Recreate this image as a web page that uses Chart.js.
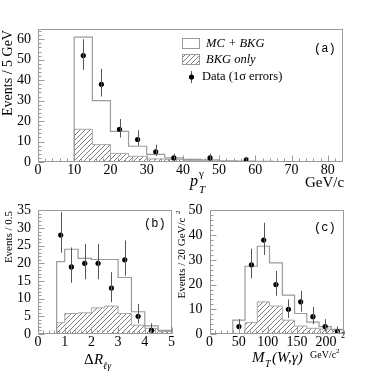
<!DOCTYPE html>
<html>
<head>
<meta charset="utf-8">
<script src="https://cdn.jsdelivr.net/npm/chart.js@4.4.1/dist/chart.umd.min.js"></script>
<style>
  html, body { margin: 0; padding: 0; background: #fff; }
  #wrap { position: relative; width: 381px; height: 382px; overflow: hidden; }
  canvas { position: absolute; }
</style>
</head>
<body>
<div id="wrap">
  <canvas id="chartA" style="left:0;top:0;width:381px;height:200px"></canvas>
  <canvas id="chartB" style="left:0;top:195px;width:200px;height:187px"></canvas>
  <canvas id="chartC" style="left:170px;top:195px;width:211px;height:187px"></canvas>
</div>
<script>
//------------------------------------
// Data : (a) photon pT
//------------------------------------

const ptEdges = [10, 15, 20, 25, 30, 35, 40, 45, 50, 55, 60, 65, 70, 75, 80, 85];
const ptMcBkg = [61, 30, 15, 7.7, 3.7, 2, 1.3, 1, 0.6, 0.4, 0.3, 0.2, 0.15, 0.1, 0.1];
const ptBkg = [16, 8.5, 4.2, 2.8, 1.5, 1.2, 0.8, 0.5, 0.3, 0.2, 0.15, 0.1, 0.1, 0.05, 0.05];
const ptDataX = [12.5, 17.5, 22.5, 27.5, 32.5, 37.5, 47.5, 57.5];
const ptDataY = [52, 38, 16, 11, 5, 2, 2, 1];
const ptDataLo = [45, 32, 12, 8, 3, 1, 1, 0];
const ptDataHi = [60, 45.5, 21, 15.5, 8.5, 4, 4, 2.5];

//------------------------------------
// Data : (b) delta R
//------------------------------------

const drEdges = [0.7, 1.0, 1.5, 2.0, 2.5, 3.0, 3.5, 4.0, 4.5, 5.0];
const drMcBkg = [20.5, 24, 21.4, 21.1, 21.1, 16, 6.3, 2.3, 1];
const drBkg = [3.2, 5.8, 6.0, 7.4, 7.9, 5.8, 2.5, 1.6, 0.7];
const drDataX = [0.85, 1.25, 1.75, 2.25, 2.75, 3.25, 3.75, 4.25];
const drDataY = [28, 19, 20, 20, 13, 21, 5, 1];
const drDataLo = [23, 14.5, 15.5, 15.5, 9, 16.5, 3, 0];
const drDataHi = [34.5, 24.5, 25.5, 25.5, 17.5, 26.5, 8.5, 3];

//------------------------------------
// Data : (c) transverse mass
//------------------------------------

const mtEdges = [40, 61, 82, 103, 125, 146, 167, 188, 209, 230];
const mtMcBkg = [5.6, 27.4, 35.5, 28.8, 15.7, 8.3, 4.8, 3.0, 1.9];
const mtBkg = [0, 4.6, 13, 11.3, 5.6, 3.2, 2.3, 2.0, 1.6];
const mtDataX = [50.5, 72, 93, 114, 135.5, 156.5, 177.5, 198.5, 219.5];
const mtDataY = [3, 28, 38, 20, 10, 13, 7, 3, 1];
const mtDataLo = [1, 22.5, 32, 15.5, 6.5, 9, 4, 1, 0];
const mtDataHi = [6, 34.5, 45, 25.5, 14, 17.5, 11, 6, 3];

//------------------------------------
// Helpers
//------------------------------------

const SERIF = "'Liberation Serif', 'Times New Roman', serif";
const MONO = "'Liberation Mono', 'Courier New', monospace";
const LINE_GRAY = "#9a9a9a";

function makeHatch() {
    const c = document.createElement("canvas");
    c.width = 5;
    c.height = 5;
    const g = c.getContext("2d");
    g.strokeStyle = "#6e6e6e";
    g.lineWidth = 0.9;
    g.beginPath();
    g.moveTo(-1, 6); g.lineTo(6, -1);
    g.moveTo(-1, 1); g.lineTo(1, -1);
    g.moveTo(4, 6); g.lineTo(6, 4);
    g.stroke();
    return g.createPattern(c, "repeat");
}

const hatch = makeHatch();

function stepPoints(edges, values) {
    const pts = [{ x: edges[0], y: 0 }];
    values.forEach(function (v, i) { pts.push({ x: edges[i], y: v }); });
    pts.push({ x: edges[edges.length - 1], y: 0 });
    return pts;
}

function zipPoints(xs, ys) {
    return xs.map(function (x, i) { return { x: x, y: ys[i] }; });
}

function txt(ctx, s, x, y, font, align, base) {
    ctx.font = font;
    ctx.textAlign = align || "left";
    ctx.textBaseline = base || "alphabetic";
    ctx.fillStyle = "#000";
    ctx.fillText(s, x, y);
}

// frame, inward ticks, error bars and extra texts
const rootPlugin = {
    id: "rootStyle",
    afterDatasetsDraw(chart, args, opts) {
        const ctx = chart.ctx;
        const a = chart.chartArea;
        const xs = chart.scales.x;
        const ys = chart.scales.y;
        const L = Math.round(a.left) + 0.5, R = Math.round(a.right) - 0.5;
        const T = Math.round(a.top) + 0.5, B = Math.round(a.bottom) - 0.5;

        ctx.save();

        // error bars
        ctx.strokeStyle = "#555";
        ctx.lineWidth = 1;
        ctx.beginPath();
        opts.err.x.forEach(function (xv, i) {
            const px = Math.round(xs.getPixelForValue(xv)) + 0.5;
            ctx.moveTo(px, Math.max(ys.getPixelForValue(opts.err.lo[i]), a.top));
            ctx.lineTo(px, Math.min(ys.getPixelForValue(opts.err.hi[i]), a.bottom));
        });
        ctx.stroke();

        // frame
        ctx.strokeStyle = LINE_GRAY;
        ctx.strokeRect(L, T, R - L, B - T);

        // ticks
        ctx.beginPath();
        const majX = xs.ticks.map(function (t) { return t.value; });
        const majY = ys.ticks.map(function (t) { return t.value; });
        for (let i = 0; ; i++) {
            const v = xs.min + i * opts.minorX;
            if (v > xs.max + 1e-9) break;
            const px = Math.round(xs.getPixelForValue(v)) + 0.5;
            const big = majX.some(function (m) { return Math.abs(m - v) < 1e-6; });
            ctx.moveTo(px, B);
            ctx.lineTo(px, B - (big ? 6 : 3));
        }
        for (let i = 0; ; i++) {
            const v = ys.min + i * opts.minorY;
            if (v > ys.max + 1e-9) break;
            const py = Math.round(ys.getPixelForValue(v)) + 0.5;
            const big = majY.some(function (m) { return Math.abs(m - v) < 1e-6; });
            ctx.moveTo(L, py);
            ctx.lineTo(L + (big ? 6 : 3), py);
        }
        ctx.stroke();
        ctx.restore();
    },
    afterDraw(chart, args, opts) {
        const ctx = chart.ctx;
        ctx.save();
        opts.texts(ctx);
        ctx.restore();
    }
};

function makeChart(id, edges, mc, bkg, dx, dy, lo, hi, cfg) {

    return new Chart(document.getElementById(id), {
        type: "scatter",
        data: {
            datasets: [{
                type: "line",
                label: "MC + BKG",
                data: stepPoints(edges, mc),
                stepped: true,
                borderColor: LINE_GRAY,
                borderWidth: 1.2,
                pointRadius: 0,
                fill: false,
                order: 2
            }, {
                type: "line",
                label: "BKG only",
                data: stepPoints(edges, bkg),
                stepped: true,
                borderColor: "#a8a8a8",
                borderWidth: 1,
                backgroundColor: hatch,
                pointRadius: 0,
                fill: "origin",
                order: 3
            }, {
                label: "Data",
                data: zipPoints(dx, dy),
                pointRadius: 2.6,
                pointBorderWidth: 0,
                backgroundColor: "#000",
                order: 1
            }]
        },
        options: {
            responsive: false,
            animation: false,
            events: [],
            layout: { padding: cfg.pad },
            plugins: {
                legend: { display: false },
                tooltip: { enabled: false },
                rootStyle: {
                    err: { x: dx, lo: lo, hi: hi },
                    minorX: cfg.minorX,
                    minorY: cfg.minorY,
                    texts: cfg.texts
                }
            },
            scales: {
                x: {
                    type: "linear",
                    min: cfg.xMin,
                    max: cfg.xMax,
                    grid: { display: false, drawTicks: false },
                    border: { display: false },
                    afterFit: function (s) { s.height = cfg.xH; },
                    ticks: {
                        stepSize: cfg.xStep,
                        includeBounds: false,
                        autoSkip: false,
                        maxRotation: 0,
                        padding: 0,
                        color: "#000",
                        font: { family: SERIF, size: 14 }
                    }
                },
                y: {
                    min: 0,
                    max: cfg.yMax,
                    grid: { display: false, drawTicks: false },
                    border: { display: false },
                    afterFit: function (s) { s.width = cfg.yW; },
                    ticks: {
                        stepSize: cfg.yStep,
                        includeBounds: false,
                        autoSkip: false,
                        padding: 7,
                        color: "#000",
                        font: { family: SERIF, size: 14 }
                    }
                }
            }
        },
        plugins: [rootPlugin]
    });
}

//------------------------------------
// (a)
//------------------------------------

makeChart("chartA", ptEdges, ptMcBkg, ptBkg, ptDataX, ptDataY, ptDataLo, ptDataHi, {
    pad: { left: 0, top: 29, right: 38, bottom: 0 },
    xH: 38, yW: 38,
    xMin: 0, xMax: 84.2, xStep: 10, minorX: 2,
    yMax: 65, yStep: 10, minorY: 2,
    texts: function (ctx) {
        ctx.save();
        ctx.translate(8, 73);
        ctx.rotate(-Math.PI / 2);
        txt(ctx, "Events / 5 GeV", 0, 0, "14px " + SERIF, "center", "middle");
        ctx.restore();

        txt(ctx, "p", 190, 186, "italic 16px " + SERIF);
        txt(ctx, "γ", 199, 177, "11px " + SERIF);
        txt(ctx, "T", 199, 193, "italic 11px " + SERIF);
        txt(ctx, "GeV/c", 305, 187, "15px " + SERIF);

        txt(ctx, "(a)", 314, 49, "12px " + MONO, "left", "middle");

        // legend
        ctx.strokeStyle = LINE_GRAY;
        ctx.lineWidth = 1;
        ctx.strokeRect(182.5, 38.5, 17, 10);
        ctx.fillStyle = hatch;
        ctx.fillRect(182.5, 54.5, 17, 10);
        ctx.strokeRect(182.5, 54.5, 17, 10);
        ctx.strokeStyle = "#555";
        ctx.beginPath();
        ctx.moveTo(191.5, 71);
        ctx.lineTo(191.5, 83);
        ctx.stroke();
        ctx.fillStyle = "#000";
        ctx.beginPath();
        ctx.arc(191.5, 77, 2.6, 0, Math.PI * 2);
        ctx.fill();
        txt(ctx, "MC + BKG", 206, 43.5, "italic 12.5px " + SERIF, "left", "middle");
        txt(ctx, "BKG only", 206, 59.5, "italic 12.5px " + SERIF, "left", "middle");
        txt(ctx, "Data (1σ errors)", 202, 77, "12.5px " + SERIF, "left", "middle");
    }
});

//------------------------------------
// (b)
//------------------------------------

makeChart("chartB", drEdges, drMcBkg, drBkg, drDataX, drDataY, drDataLo, drDataHi, {
    pad: { left: 0, top: 15, right: 28.5, bottom: 0 },
    xH: 48, yW: 38,
    xMin: 0, xMax: 5, xStep: 1, minorX: 0.2,
    yMax: 35, yStep: 5, minorY: 1,
    texts: function (ctx) {
        ctx.save();
        ctx.translate(9, 42);
        ctx.rotate(-Math.PI / 2);
        txt(ctx, "Events / 0.5", 0, 0, "11px " + SERIF, "center", "middle");
        ctx.restore();

        txt(ctx, "Δ", 84, 169, "15px " + SERIF);
        txt(ctx, "R", 94, 169, "italic 15px " + SERIF);
        txt(ctx, "ℓγ", 103, 174, "italic 10px " + SERIF);

        txt(ctx, "(b)", 144, 29, "12px " + MONO, "left", "middle");
    }
});

//------------------------------------
// (c)
//------------------------------------

makeChart("chartC", mtEdges, mtMcBkg, mtBkg, mtDataX, mtDataY, mtDataLo, mtDataHi, {
    pad: { left: 0, top: 15, right: 37.5, bottom: 0 },
    xH: 48, yW: 39.5,
    xMin: 0, xMax: 230, xStep: 50, minorX: 10,
    yMax: 50, yStep: 10, minorY: 2,
    texts: function (ctx) {
        ctx.save();
        ctx.translate(12, 59);
        ctx.rotate(-Math.PI / 2);
        txt(ctx, "Events / 20 GeV/c", -4, 0, "11px " + SERIF, "center", "middle");
        txt(ctx, "2", 40, -4, "7px " + SERIF, "left", "middle");
        ctx.restore();

        txt(ctx, "M", 82, 167, "italic 15px " + SERIF);
        txt(ctx, "T", 95, 172, "italic 10px " + SERIF);
        txt(ctx, "(W,γ)", 102, 167, "italic 15px " + SERIF);
        txt(ctx, "GeV/c", 140, 163, "10px " + SERIF);
        txt(ctx, "2", 166, 158, "7px " + SERIF);
        txt(ctx, "2", 171, 143, "8px " + SERIF);

        txt(ctx, "(c)", 144, 33, "12px " + MONO, "left", "middle");
    }
});
</script>
</body>
</html>
